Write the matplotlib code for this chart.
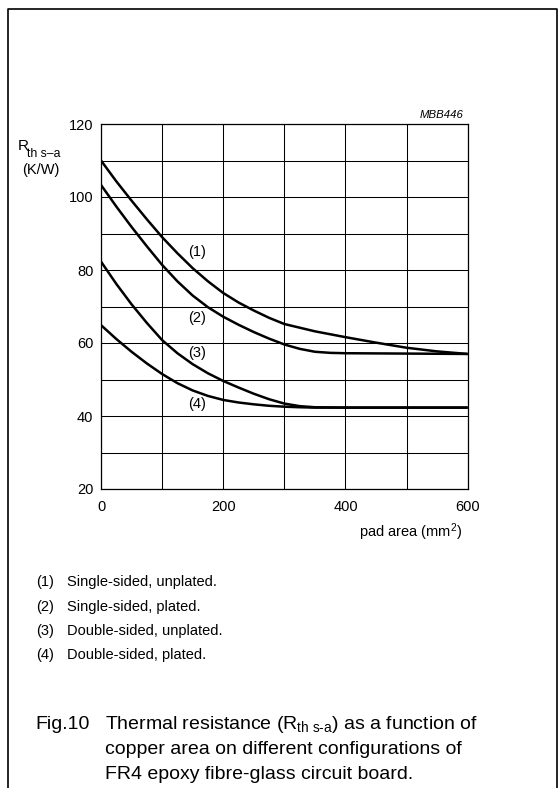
import numpy as np
import matplotlib.pyplot as plt
from matplotlib.lines import Line2D

plt.rcParams['font.family'] = ['Liberation Sans', 'DejaVu Sans']
plt.rcParams['mathtext.fontset'] = 'custom'
plt.rcParams['mathtext.rm'] = 'Liberation Sans'
plt.rcParams['mathtext.it'] = 'Liberation Sans:italic'

W, H = 559, 788

# pad area (mm2) and thermal resistance (K/W) for each board type
area_1 = [0, 25, 50, 75, 100, 125, 150, 175, 200, 225, 250, 275, 300, 350, 400, 450, 500, 550, 600]
rth_1 = [110, 104.3, 99.0, 93.9, 89.0, 84.6, 80.5, 76.9, 73.7, 71.1, 68.9, 66.9, 65.2,
         63.2, 61.6, 60.1, 58.7, 57.7, 57.0]

area_2 = [0, 25, 50, 75, 100, 125, 150, 175, 200, 225, 250, 275, 300, 325, 350, 375, 400, 600]
rth_2 = [103.3, 97.4, 91.8, 86.5, 81.4, 76.9, 73.0, 69.8, 67.2, 65.0, 63.0, 61.2, 59.6,
         58.4, 57.6, 57.3, 57.2, 57.0]

area_3 = [0, 25, 50, 75, 100, 125, 150, 175, 200, 225, 250, 275, 300, 325, 350, 400, 600]
rth_3 = [82.3, 76.2, 70.6, 65.5, 60.8, 57.2, 54.2, 51.7, 49.6, 47.8, 46.1, 44.6, 43.4,
         42.7, 42.4, 42.3, 42.3]

area_4 = [0, 25, 50, 75, 100, 125, 150, 175, 200, 225, 250, 275, 300, 325, 350, 600]
rth_4 = [64.9, 61.1, 57.6, 54.4, 51.5, 49.0, 47.0, 45.5, 44.4, 43.7, 43.2, 42.8, 42.55,
         42.4, 42.3, 42.3]

curve_tags = ['(1)', '(2)', '(3)', '(4)']
tag_pos = [(157, 85.0), (157, 66.8), (157, 57.3), (157, 43.2)]

legend_lines = ['Single-sided, unplated.', 'Single-sided, plated.',
                'Double-sided, unplated.', 'Double-sided, plated.']


def fx(px):
    return px / W


def fy(py):
    return 1 - py / H


fig = plt.figure(figsize=(W / 100, H / 100), dpi=100)
fig.patch.set_facecolor('white')

ax = fig.add_axes([fx(101), fy(489), fx(467.7) - fx(101), fy(124) - fy(489)])
ax.set_xlim(0, 600)
ax.set_ylim(20, 120)
ax.set_xticks(np.arange(0, 601, 100))
ax.set_yticks(np.arange(20, 121, 10))
ax.set_xticklabels(['0', '', '200', '', '400', '', '600'])
ax.set_yticklabels(['20', '', '40', '', '60', '', '80', '', '100', '', '120'])
ax.tick_params(length=0, labelsize=10.5, colors='black')
ax.tick_params(axis='y', pad=5.5)
ax.tick_params(axis='x', pad=8)
ax.grid(True, color='black', lw=0.75)
for s in ax.spines.values():
    s.set_linewidth(0.9)

for xs, ys in [(area_1, rth_1), (area_2, rth_2), (area_3, rth_3), (area_4, rth_4)]:
    ax.plot(xs, ys, color='black', lw=1.8, solid_capstyle='butt', solid_joinstyle='round')

for tag, (tx, ty) in zip(curve_tags, tag_pos):
    ax.text(tx, ty, tag, fontsize=10.5, ha='center', va='center')

# axis titles and figure code
fig.text(fx(18), fy(150), 'R', fontsize=11, ha='left', va='baseline')
fig.text(fx(27), fy(157), 'th s\u2013a', fontsize=8.8, ha='left', va='baseline')
fig.text(fx(22), fy(174), '(K/W)', fontsize=10.5, ha='left', va='baseline')
fig.text(fx(464), fy(118), 'MBB446', fontsize=8.2, style='italic', ha='right', va='baseline')
fig.text(fx(462), fy(537), r'pad area (mm$^{2}$)', fontsize=10.5, ha='right', va='baseline')

# notes under the chart
for i, line in enumerate(legend_lines):
    yb = 586 + i * 24.5
    fig.text(fx(36), fy(yb), '(%d)' % (i + 1), fontsize=10.5, ha='left', va='baseline')
    fig.text(fx(67), fy(yb), line, fontsize=10.5, ha='left', va='baseline')

fig.text(fx(35), fy(729), 'Fig.10', fontsize=14, ha='left', va='baseline')
fig.text(fx(105), fy(729), r'Thermal resistance (R$_{\mathrm{th\ s\text{-}a}}$) as a function of',
         fontsize=14, ha='left', va='baseline')
fig.text(fx(105), fy(754), 'copper area on different configurations of', fontsize=14,
         ha='left', va='baseline')
fig.text(fx(105), fy(779), 'FR4 epoxy fibre-glass circuit board.', fontsize=14,
         ha='left', va='baseline')

# page frame, open at the bottom
fig.add_artist(Line2D([fx(7.5), fx(7.5), fx(556.5), fx(556.5)],
                      [0, fy(9), fy(9), 0], transform=fig.transFigure,
                      color='black', lw=1.2))

fig.savefig('out.png', dpi=100, facecolor='white')
